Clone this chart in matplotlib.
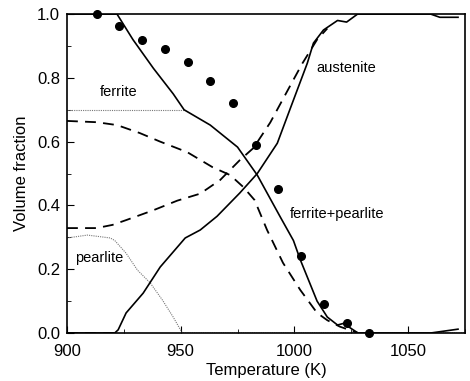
import matplotlib
matplotlib.use("Agg")
import matplotlib.pyplot as plt
from matplotlib.ticker import MultipleLocator

plt.rcParams['font.family'] = ['Liberation Sans', 'DejaVu Sans']

# measured points (dots)
meas_T = [913, 923, 933, 943, 953, 963, 973, 983, 993, 1003, 1013, 1023, 1033]
meas_v = [1.0, 0.962, 0.92, 0.89, 0.85, 0.79, 0.72, 0.59, 0.45, 0.24, 0.09, 0.03, 0.0]

# solid ferrite+pearlite (decreasing)
fp_T = [900, 922, 929, 938, 946.7, 951.5, 963, 975, 983.7, 993.8, 999.6, 1002.6, 1010, 1014.5, 1019, 1021.6, 1028, 1060, 1066, 1072]
fp_v = [1.0, 1.0, 0.92, 0.83, 0.75, 0.70, 0.652, 0.583, 0.495, 0.364, 0.29, 0.23, 0.10, 0.05, 0.025, 0.03, 0.0, 0.0, 0.006, 0.012]

# solid austenite (increasing)
au_T = [900, 921, 922.5, 926, 933.5, 941, 952, 958.6, 966, 976, 983.7, 992.5, 998, 1005.7, 1008.4, 1012.8, 1019, 1023, 1027.8, 1060, 1064, 1072]
au_v = [0.0, 0.0, 0.01, 0.063, 0.125, 0.207, 0.298, 0.323, 0.366, 0.439, 0.50, 0.595, 0.70, 0.846, 0.909, 0.95, 0.98, 0.975, 1.0, 1.0, 0.99, 0.99]

# dashed ferrite+pearlite (decreasing)
dfp_T = [900, 913, 922, 932, 941, 952.9, 964, 971.8, 977.5, 982.5, 988, 995, 1002.6, 1010, 1014.5, 1020, 1028]
dfp_v = [0.665, 0.661, 0.652, 0.627, 0.60, 0.567, 0.52, 0.495, 0.458, 0.417, 0.323, 0.22, 0.135, 0.063, 0.04, 0.02, 0.0]

# dashed austenite (increasing)
dau_T = [900, 913, 920, 926, 938, 948.5, 958.6, 967.4, 976, 982, 989.4, 997, 1003.5, 1010, 1014.5]
dau_v = [0.329, 0.329, 0.339, 0.354, 0.385, 0.415, 0.437, 0.48, 0.542, 0.58, 0.66, 0.76, 0.845, 0.92, 0.955]

# dotted ferrite
fe_T = [900, 952]
fe_v = [0.70, 0.70]

# dotted pearlite
pe_T = [900, 909, 919, 921, 926, 931, 936.6, 942, 946.7, 950.7, 1075]
pe_v = [0.298, 0.307, 0.298, 0.29, 0.25, 0.197, 0.157, 0.103, 0.05, 0.0, 0.0]

# dashed zero segment
dz_T = [900, 921]
dz_v = [0.0, 0.0]

fig = plt.figure(figsize=(4.70, 3.81), dpi=100)
ax = fig.add_axes([0.1426, 0.126, 0.8464, 0.837])

ax.plot(fe_T, fe_v, color='#777777', lw=0.8, ls=(0, (1, 1)))
ax.plot(pe_T, pe_v, color='#777777', lw=0.8, ls=(0, (1, 1)))
ax.plot(fp_T, fp_v, color='black', lw=1.2)
ax.plot(au_T, au_v, color='black', lw=1.2)
ax.plot(dfp_T, dfp_v, color='black', lw=1.3, ls=(0, (6, 4)))
ax.plot(dau_T, dau_v, color='black', lw=1.3, ls=(0, (6, 4)))
ax.plot(dz_T, dz_v, color='black', lw=1.3, ls=(0, (6, 4)))
ax.plot(meas_T, meas_v, 'o', color='black', ms=5.5, clip_on=False, zorder=5)

ax.set_xlim(900, 1075)
ax.set_ylim(0, 1.0)
ax.xaxis.set_major_locator(MultipleLocator(50))
ax.xaxis.set_minor_locator(MultipleLocator(25))
ax.yaxis.set_major_locator(MultipleLocator(0.2))
ax.yaxis.set_minor_locator(MultipleLocator(0.1))
ax.yaxis.set_major_formatter(plt.FuncFormatter(lambda v, p: f"{v:.1f}"))
ax.tick_params(which='both', direction='in', top=False, right=False, labelsize=12)
ax.tick_params(axis='x', which='major', pad=8)
ax.tick_params(axis='y', which='major', pad=5)
ax.tick_params(which='major', length=5)
ax.tick_params(which='minor', length=3)
for s in ax.spines.values():
    s.set_linewidth(1.2)

ax.set_xlabel('Temperature (K)', fontsize=12, labelpad=3)
ax.set_ylabel('Volume fraction', fontsize=12, labelpad=6)

ax.text(922.5, 0.755, 'ferrite', fontsize=10.5, ha='center', va='center')
ax.text(914, 0.235, 'pearlite', fontsize=10.5, ha='center', va='center')
ax.text(1023, 0.83, 'austenite', fontsize=10.5, ha='center', va='center')
ax.text(1019, 0.373, 'ferrite+pearlite', fontsize=10.5, ha='center', va='center')

fig.savefig('out.png', dpi=100)
